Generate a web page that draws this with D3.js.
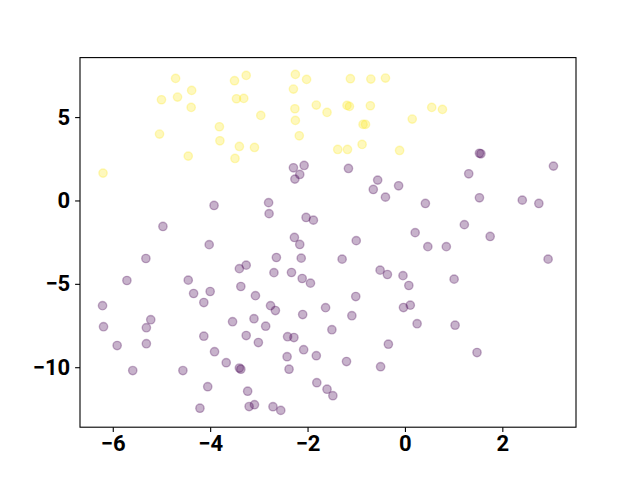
<!DOCTYPE html>
<html>
<head>
<meta charset="utf-8">
<script src="https://cdn.jsdelivr.net/npm/d3@7"></script>
<style>
  body { margin: 0; background: #fff; }
  svg text { font-family: Roboto, "Liberation Sans", sans-serif; font-weight: bold; }
</style>
</head>
<body>
<div id="plot"></div>
<script>
// cluster 1 (yellow)
let yellowX = [-4.71, -5.00, -4.67, -4.38, -4.39, -5.04, -4.45, -6.20, -3.50, -3.26, -3.46, -3.31, -2.96,
  -3.81, -3.80, -3.40, -3.09, -3.49, -2.25, -2.02, -2.29, -2.26, -2.25, -2.17, -1.82, -1.60, -1.12,
  -0.70, -0.40, -1.19, -1.14, -0.71, 0.55, 0.77, 0.15, -0.86, -0.81, -1.38, -1.18, -0.88, -0.11]
let yellowY = [7.32, 6.04, 6.20, 6.60, 5.58, 3.98, 2.66, 1.64, 7.18, 7.50, 6.10, 6.12, 5.10,
  4.42, 3.58, 3.24, 3.18, 2.52, 7.56, 7.26, 6.68, 5.50, 4.80, 3.88, 5.72, 5.28, 7.30,
  7.28, 7.34, 5.70, 5.64, 5.68, 5.58, 5.46, 4.88, 4.56, 4.56, 3.06, 3.06, 3.36, 3.00]

// cluster 0 (purple)
let purpleX = [-2.29, -2.07, -2.16, -2.26, 1.53, 1.56, -1.16, -0.56, 1.31, 3.05, -0.13, -3.92, -2.80,
  -2.79, -4.97, -2.03, -1.88, -4.02, -2.27, -2.16, -5.32, -2.64, -2.13, -3.40, -3.26, -2.69, -2.33,
  -5.71, -4.45, -2.11, -1.94, -4.34, -4.00, -3.37, -3.07, -4.13, -6.21, -2.76, -2.66, -1.63, -0.65,
  -0.40, 0.42, 1.53, 2.41, 2.75, 1.22, 0.21, 1.75, -1.00, 0.47, 0.85, -1.29, 2.94, -0.51, -0.36,
  -0.04, 0.08, 1.01, -1.01, -0.03, 0.11, -6.19, -5.22, -5.31, -5.91, -5.31, -5.59, -4.56, -4.13,
  -3.91, -3.67, -3.40, -3.37, -3.54, -3.10, -2.86, -3.26, -3.01, -2.10, -2.41, -2.28, -1.50, -2.08,
  -1.82, -2.42, -2.38, -4.05, -3.23, -1.81, -1.60, -1.48, -4.21, -3.20, -3.09, -2.71, -2.55, -1.09,
  0.25, 1.03, -0.34, 1.48, -1.20, -0.50]
let purpleY = [1.96, 2.10, 1.56, 1.28, 2.83, 2.80, 1.92, 1.22, 1.60, 2.06, 0.88, -0.30, -0.13,
  -0.79, -1.56, -1.02, -1.18, -2.65, -2.22, -2.64, -3.48, -3.42, -3.46, -4.09, -3.88, -4.33, -4.32,
  -4.80, -4.78, -4.68, -4.96, -5.58, -5.46, -5.16, -5.71, -6.12, -6.31, -6.31, -6.60, -6.43, 0.66,
  0.20, -0.18, 0.16, 0.02, -0.18, -1.45, -1.93, -2.16, -2.41, -2.77, -2.77, -3.52, -3.52, -4.18, -4.44,
  -4.51, -5.10, -4.72, -5.76, -6.42, -6.28, -7.57, -7.15, -7.63, -8.70, -8.59, -10.20, -10.20, -8.14,
  -9.07, -9.73, -10.05, -10.12, -7.27, -7.09, -7.54, -8.10, -8.52, -6.84, -8.17, -8.22, -7.75, -8.95,
  -9.31, -9.37, -10.12, -11.17, -11.44, -10.93, -11.32, -11.71, -12.46, -12.36, -12.25, -12.37, -12.59, -6.91,
  -7.39, -7.48, -8.62, -9.12, -9.66, -9.97]

let xTicks = [-6, -4, -2, 0, 2]
let yTicks = [-10, -5, 0, 5]

let width = 640
let height = 480
let margin = { left: 80, right: 64, top: 57.6, bottom: 52.8 }

let points = purpleX.map((x, i) => ({ x: x, y: purpleY[i], label: 0 }))
  .concat(yellowX.map((x, i) => ({ x: x, y: yellowY[i], label: 1 })))

// matplotlib-like 5% margins around the data
let pad = (ext) => {
  let d = (ext[1] - ext[0]) * 0.05
  return [ext[0] - d, ext[1] + d]
}

let xScale = d3.scaleLinear()
  .domain(pad(d3.extent(points, d => d.x)))
  .range([margin.left, width - margin.right])
let yScale = d3.scaleLinear()
  .domain(pad(d3.extent(points, d => d.y)))
  .range([height - margin.bottom, margin.top])
let color = (label) => label === 0 ? '#440154' : '#fde725'

let svg = d3.select('#plot').append('svg')
  .attr('width', width)
  .attr('height', height)

svg.append('g')
  .selectAll('circle')
  .data(points)
  .enter().append('circle')
  .attr('cx', d => xScale(d.x))
  .attr('cy', d => yScale(d.y))
  .attr('r', 4.17)
  .attr('fill', d => color(d.label))
  .attr('fill-opacity', 0.3)
  .attr('stroke', d => color(d.label))
  .attr('stroke-opacity', 0.3)
  .attr('stroke-width', 1.39)

// frame
svg.append('rect')
  .attr('x', margin.left)
  .attr('y', margin.top)
  .attr('width', width - margin.left - margin.right)
  .attr('height', height - margin.top - margin.bottom)
  .attr('fill', 'none')
  .attr('stroke', 'black')
  .attr('stroke-width', 1.1)

let xAxis = svg.append('g')
  .attr('transform', 'translate(0,' + (height - margin.bottom) + ')')
  .call(d3.axisBottom(xScale).tickValues(xTicks).tickSize(4.9).tickPadding(3.5).tickSizeOuter(0).tickFormat(d3.format('d')))
let yAxis = svg.append('g')
  .attr('transform', 'translate(' + margin.left + ',0)')
  .call(d3.axisLeft(yScale).tickValues(yTicks).tickSize(4.9).tickPadding(4.9).tickSizeOuter(0).tickFormat(d3.format('d')))

for (let ax of [xAxis, yAxis]) {
  ax.select('.domain').remove()
  ax.selectAll('.tick line').attr('stroke', 'black').attr('stroke-width', 1.1)
  ax.selectAll('.tick text').attr('fill', 'black').style('font-size', '22px').style('font-weight', 'bold')
}
</script>
</body>
</html>
